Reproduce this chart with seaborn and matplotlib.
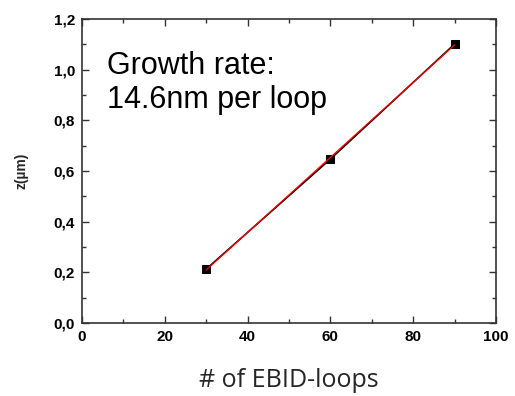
import matplotlib.pyplot as plt
import seaborn as sns
import numpy as np
import pandas as pd
from matplotlib.ticker import MultipleLocator, FuncFormatter

# dados
loops = [30, 60, 90]
z_um = [0.213, 0.647, 1.101]

df = pd.DataFrame({'loops': loops, 'z': z_um})

# ajuste linear (taxa de crescimento)
coef = np.polyfit(df['loops'], df['z'], 1)
fit_x = [loops[0], loops[-1]]
fit_y = [coef[0] * v + coef[1] for v in fit_x]

sns.set_style('ticks')
plt.rcParams['font.family'] = ['Liberation Sans', 'DejaVu Sans']

fig = plt.figure(figsize=(5.15, 3.96), dpi=100)
ax = fig.add_axes([0.159, 0.184, 0.804, 0.768])

sns.lineplot(data=df, x='loops', y='z', ax=ax, color='black', lw=1.2,
             marker='s', markersize=6, markeredgecolor='black')
sns.lineplot(x=fit_x, y=fit_y, ax=ax, color='red', lw=0.9)

ax.set_xlim(0, 100)
ax.set_ylim(0, 1.2)
ax.xaxis.set_major_locator(MultipleLocator(20))
ax.xaxis.set_minor_locator(MultipleLocator(10))
ax.yaxis.set_major_locator(MultipleLocator(0.2))
ax.yaxis.set_minor_locator(MultipleLocator(0.1))
ax.yaxis.set_major_formatter(FuncFormatter(lambda v, p: f'{v:.1f}'.replace('.', ',')))

ax.tick_params(which='both', direction='in', top=True, right=True, width=1, color='#333333')
ax.tick_params(which='major', length=5, labelsize=11, labelcolor='black', pad=5)
ax.tick_params(which='minor', length=3)
for lab in ax.get_xticklabels() + ax.get_yticklabels():
    lab.set_fontweight('bold')
for s in ax.spines.values():
    s.set_linewidth(1.2)
    s.set_color('#333333')

ax.set_xlabel('# of EBID-loops', fontsize=18, family=['Open Sans', 'DejaVu Sans'], labelpad=17)
ax.set_ylabel('z(µm)', fontsize=10, fontweight='bold', labelpad=18)

ax.text(6, 1.075, 'Growth rate:\n14.6nm per loop', fontsize=22, va='top', ha='left',
        linespacing=1.2, color='black')

plt.savefig('out.png', dpi=100)
